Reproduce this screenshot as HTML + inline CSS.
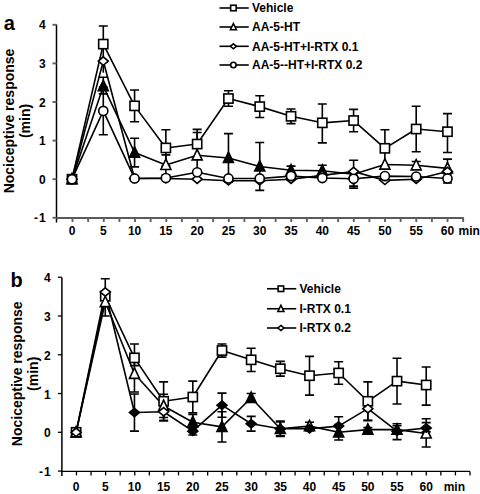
<!DOCTYPE html>
<html><head><meta charset="utf-8"><style>
html,body{margin:0;padding:0;background:#fff;width:480px;height:494px;overflow:hidden}
svg{display:block}
text{font-family:"Liberation Sans",sans-serif;font-weight:bold;fill:#000}
</style></head><body>
<svg width="480" height="494" viewBox="0 0 480 494">
<path d="M56.5 24.5V222.5" stroke="#000" stroke-width="1.5" fill="none"/>
<path d="M52.5 24.8H56.5" stroke="#606060" stroke-width="1.9" fill="none"/>
<text x="45.8" y="29.3" font-size="12" text-anchor="end" >4</text>
<path d="M52.5 63.4H56.5" stroke="#606060" stroke-width="1.9" fill="none"/>
<text x="45.8" y="67.9" font-size="12" text-anchor="end" >3</text>
<path d="M52.5 102H56.5" stroke="#606060" stroke-width="1.9" fill="none"/>
<text x="45.8" y="106.5" font-size="12" text-anchor="end" >2</text>
<path d="M52.5 140.6H56.5" stroke="#606060" stroke-width="1.9" fill="none"/>
<text x="45.8" y="145.1" font-size="12" text-anchor="end" >1</text>
<path d="M52.5 179.2H56.5" stroke="#606060" stroke-width="1.9" fill="none"/>
<text x="45.8" y="183.7" font-size="12" text-anchor="end" >0</text>
<path d="M52.5 217.8H56.5" stroke="#606060" stroke-width="1.9" fill="none"/>
<text x="45.8" y="222.3" font-size="12" text-anchor="end" ><tspan>-</tspan><tspan dx="1">1</tspan></text>
<path d="M56.5 218H463.8" stroke="#5a5a5a" stroke-width="2.0" fill="none"/>
<path d="M72.53 218V222" stroke="#606060" stroke-width="1.9" fill="none"/>
<path d="M88.15 218V222" stroke="#606060" stroke-width="1.9" fill="none"/>
<path d="M103.78 218V222" stroke="#606060" stroke-width="1.9" fill="none"/>
<path d="M119.4 218V222" stroke="#606060" stroke-width="1.9" fill="none"/>
<path d="M135.03 218V222" stroke="#606060" stroke-width="1.9" fill="none"/>
<path d="M150.65 218V222" stroke="#606060" stroke-width="1.9" fill="none"/>
<path d="M166.28 218V222" stroke="#606060" stroke-width="1.9" fill="none"/>
<path d="M181.9 218V222" stroke="#606060" stroke-width="1.9" fill="none"/>
<path d="M197.53 218V222" stroke="#606060" stroke-width="1.9" fill="none"/>
<path d="M213.15 218V222" stroke="#606060" stroke-width="1.9" fill="none"/>
<path d="M228.78 218V222" stroke="#606060" stroke-width="1.9" fill="none"/>
<path d="M244.4 218V222" stroke="#606060" stroke-width="1.9" fill="none"/>
<path d="M260.02 218V222" stroke="#606060" stroke-width="1.9" fill="none"/>
<path d="M275.65 218V222" stroke="#606060" stroke-width="1.9" fill="none"/>
<path d="M291.27 218V222" stroke="#606060" stroke-width="1.9" fill="none"/>
<path d="M306.9 218V222" stroke="#606060" stroke-width="1.9" fill="none"/>
<path d="M322.52 218V222" stroke="#606060" stroke-width="1.9" fill="none"/>
<path d="M338.15 218V222" stroke="#606060" stroke-width="1.9" fill="none"/>
<path d="M353.77 218V222" stroke="#606060" stroke-width="1.9" fill="none"/>
<path d="M369.4 218V222" stroke="#606060" stroke-width="1.9" fill="none"/>
<path d="M385.02 218V222" stroke="#606060" stroke-width="1.9" fill="none"/>
<path d="M400.65 218V222" stroke="#606060" stroke-width="1.9" fill="none"/>
<path d="M416.27 218V222" stroke="#606060" stroke-width="1.9" fill="none"/>
<path d="M431.9 218V222" stroke="#606060" stroke-width="1.9" fill="none"/>
<path d="M447.52 218V222" stroke="#606060" stroke-width="1.9" fill="none"/>
<path d="M463.15 218V222" stroke="#606060" stroke-width="1.9" fill="none"/>
<text x="72" y="235.3" font-size="12" text-anchor="middle" >0</text>
<text x="103.29" y="235.3" font-size="12" text-anchor="middle" >5</text>
<text x="134.58" y="235.3" font-size="12" text-anchor="middle" >10</text>
<text x="165.87" y="235.3" font-size="12" text-anchor="middle" >15</text>
<text x="197.16" y="235.3" font-size="12" text-anchor="middle" >20</text>
<text x="228.45" y="235.3" font-size="12" text-anchor="middle" >25</text>
<text x="259.74" y="235.3" font-size="12" text-anchor="middle" >30</text>
<text x="291.03" y="235.3" font-size="12" text-anchor="middle" >35</text>
<text x="322.32" y="235.3" font-size="12" text-anchor="middle" >40</text>
<text x="353.61" y="235.3" font-size="12" text-anchor="middle" >45</text>
<text x="384.9" y="235.3" font-size="12" text-anchor="middle" >50</text>
<text x="416.19" y="235.3" font-size="12" text-anchor="middle" >55</text>
<text x="447.48" y="235.3" font-size="12" text-anchor="middle" >60</text>
<text x="458.5" y="235.3" font-size="12" text-anchor="start" >min</text>
<text transform="translate(13.5 121) rotate(-90)" font-size="14" text-anchor="middle">Nociceptive response</text>
<text transform="translate(30 121) rotate(-90)" font-size="14" text-anchor="middle">(min)</text>
<text x="3.8" y="30.2" font-size="20" text-anchor="start" >a</text>
<path d="M219.5 8H248.75" stroke="#000" stroke-width="1.6"/>
<rect x="230.64" y="5.24" width="5.52" height="5.52" fill="#fff" stroke="#000" stroke-width="1.6"/>
<text x="252" y="12.3" font-size="12" text-anchor="start" >Vehicle</text>
<path d="M219.5 27H248.75" stroke="#000" stroke-width="1.6"/>
<path d="M233.4 23.52L236.4 29.76L230.4 29.76Z" fill="#fff" stroke="#000" stroke-width="1.6" stroke-linejoin="miter"/>
<text x="252" y="31.3" font-size="12" text-anchor="start" >AA-5-HT</text>
<path d="M219.5 46.3H248.75" stroke="#000" stroke-width="1.6"/>
<path d="M233.4 43.78L236.4 46.3L233.4 48.82L230.4 46.3Z" fill="#fff" stroke="#000" stroke-width="1.6"/>
<text x="252" y="50.6" font-size="12" text-anchor="start" >AA-5-HT+I-RTX 0.1</text>
<path d="M219.5 65H248.75" stroke="#000" stroke-width="1.6"/>
<circle cx="233.4" cy="65" r="2.73" fill="#fff" stroke="#000" stroke-width="1.6"/>
<text x="252" y="69.3" font-size="12" text-anchor="start" >AA-5--HT+I-RTX 0.2</text>
<path d="M103.29 44.1V25.96M98.79 25.96H107.79M103.29 44.1V62.24M98.79 62.24H107.79" stroke="#000" stroke-width="1.6" fill="none"/>
<path d="M134.58 105.86V90.03M130.08 90.03H139.08M134.58 105.86V121.69M130.08 121.69H139.08" stroke="#000" stroke-width="1.6" fill="none"/>
<path d="M165.87 147.93V129.79M161.37 129.79H170.37M165.87 147.93V166.08M161.37 166.08H170.37" stroke="#000" stroke-width="1.6" fill="none"/>
<path d="M197.16 144.07V129.41M192.66 129.41H201.66M197.16 144.07V158.74M192.66 158.74H201.66" stroke="#000" stroke-width="1.6" fill="none"/>
<path d="M228.45 98.53V90.81M223.95 90.81H232.95M228.45 98.53V106.25M223.95 106.25H232.95" stroke="#000" stroke-width="1.6" fill="none"/>
<path d="M259.74 106.63V95.82M255.24 95.82H264.24M259.74 106.63V117.44M255.24 117.44H264.24" stroke="#000" stroke-width="1.6" fill="none"/>
<path d="M291.03 116.28V108.95M286.53 108.95H295.53M291.03 116.28V123.62M286.53 123.62H295.53" stroke="#000" stroke-width="1.6" fill="none"/>
<path d="M322.32 122.84V103.93M317.82 103.93H326.82M322.32 122.84V142.92M317.82 142.92H326.82" stroke="#000" stroke-width="1.6" fill="none"/>
<path d="M353.61 120.53V109.33M349.11 109.33H358.11M353.61 120.53V131.72M349.11 131.72H358.11" stroke="#000" stroke-width="1.6" fill="none"/>
<path d="M384.9 148.32V129.79M380.4 129.79H389.4M384.9 148.32V166.85M380.4 166.85H389.4" stroke="#000" stroke-width="1.6" fill="none"/>
<path d="M416.19 129.02V106.25M411.69 106.25H420.69M416.19 129.02V151.79M411.69 151.79H420.69" stroke="#000" stroke-width="1.6" fill="none"/>
<path d="M447.48 131.72V113.58M442.98 113.58H451.98M447.48 131.72V152.57M442.98 152.57H451.98" stroke="#000" stroke-width="1.6" fill="none"/>
<path d="M103.29 86.17V77.3M98.79 77.3H107.79M103.29 86.17V93.89M98.79 93.89H107.79" stroke="#000" stroke-width="1.6" fill="none"/>
<path d="M134.58 152.57V138.28M130.08 138.28H139.08M134.58 152.57V166.85M130.08 166.85H139.08" stroke="#000" stroke-width="1.6" fill="none"/>
<path d="M165.87 164.92V154.88M161.37 154.88H170.37M165.87 164.92V174.95M161.37 174.95H170.37" stroke="#000" stroke-width="1.6" fill="none"/>
<path d="M197.16 155.27V132.49M192.66 132.49H201.66M197.16 155.27V178.04M192.66 178.04H201.66" stroke="#000" stroke-width="1.6" fill="none"/>
<path d="M228.45 157.97V133.65M223.95 133.65H232.95M228.45 157.97V182.29M223.95 182.29H232.95" stroke="#000" stroke-width="1.6" fill="none"/>
<path d="M259.74 166.46V142.53M255.24 142.53H264.24M259.74 166.46V190.39M255.24 190.39H264.24" stroke="#000" stroke-width="1.6" fill="none"/>
<path d="M291.03 170.32V166.08M286.53 166.08H295.53M291.03 170.32V174.57M286.53 174.57H295.53" stroke="#000" stroke-width="1.6" fill="none"/>
<path d="M322.32 170.71V165.3M317.82 165.3H326.82M322.32 170.71V176.11M317.82 176.11H326.82" stroke="#000" stroke-width="1.6" fill="none"/>
<path d="M353.61 174.18V160.29M349.11 160.29H358.11M353.61 174.18V188.08M349.11 188.08H358.11" stroke="#000" stroke-width="1.6" fill="none"/>
<path d="M416.19 165.3V161.44M411.69 161.44H420.69M416.19 165.3V169.16M411.69 169.16H420.69" stroke="#000" stroke-width="1.6" fill="none"/>
<path d="M447.48 168.39V159.13M442.98 159.13H451.98M447.48 168.39V177.66M442.98 177.66H451.98" stroke="#000" stroke-width="1.6" fill="none"/>
<path d="M103.29 61.08V72.66" stroke="#000" stroke-width="1.6" fill="none"/>
<path d="M103.29 110.88V86.95M98.79 86.95H107.79M103.29 110.88V134.81M98.79 134.81H107.79" stroke="#000" stroke-width="1.6" fill="none"/>
<path d="M353.61 178.81V171.48M349.11 171.48H358.11M353.61 178.81V186.15M349.11 186.15H358.11" stroke="#000" stroke-width="1.6" fill="none"/>
<path d="M447.48 178.43V173.8M442.98 173.8H451.98M447.48 178.43V183.06M442.98 183.06H451.98" stroke="#000" stroke-width="1.6" fill="none"/>
<path d="M72 179.2 L103.29 44.1 L134.58 105.86 L165.87 147.93 L197.16 144.07 L228.45 98.53 L259.74 106.63 L291.03 116.28 L322.32 122.84 L353.61 120.53 L384.9 148.32 L416.19 129.02 L447.48 131.72" fill="none" stroke="#000" stroke-width="1.6" stroke-linejoin="round"/>
<path d="M72 179.2 L103.29 86.17 L134.58 152.57 L165.87 164.92 L197.16 155.27 L228.45 157.97 L259.74 166.46 L291.03 170.32 L322.32 170.71 L353.61 174.18 L384.9 164.53 L416.19 165.3 L447.48 168.39" fill="none" stroke="#000" stroke-width="1.6" stroke-linejoin="round"/>
<path d="M72 179.2 L103.29 61.08 L134.58 178.43 L165.87 178.43 L197.16 179.2 L228.45 180.74 L259.74 180.74 L291.03 179.2 L322.32 175.34 L353.61 171.48 L384.9 180.36 L416.19 179.2 L447.48 171.48" fill="none" stroke="#000" stroke-width="1.6" stroke-linejoin="round"/>
<path d="M72 179.2 L103.29 110.88 L134.58 178.43 L165.87 178.04 L197.16 172.25 L228.45 178.43 L259.74 178.43 L291.03 176.11 L322.32 178.04 L353.61 178.81 L384.9 176.11 L416.19 176.5 L447.48 178.43" fill="none" stroke="#000" stroke-width="1.6" stroke-linejoin="round"/>
<rect x="67.4" y="174.6" width="9.2" height="9.2" fill="#fff" stroke="#000" stroke-width="1.6"/>
<rect x="98.69" y="39.5" width="9.2" height="9.2" fill="#fff" stroke="#000" stroke-width="1.6"/>
<rect x="129.98" y="101.26" width="9.2" height="9.2" fill="#fff" stroke="#000" stroke-width="1.6"/>
<rect x="161.27" y="143.33" width="9.2" height="9.2" fill="#fff" stroke="#000" stroke-width="1.6"/>
<rect x="192.56" y="139.47" width="9.2" height="9.2" fill="#fff" stroke="#000" stroke-width="1.6"/>
<rect x="223.85" y="93.93" width="9.2" height="9.2" fill="#fff" stroke="#000" stroke-width="1.6"/>
<rect x="255.14" y="102.03" width="9.2" height="9.2" fill="#fff" stroke="#000" stroke-width="1.6"/>
<rect x="286.43" y="111.68" width="9.2" height="9.2" fill="#fff" stroke="#000" stroke-width="1.6"/>
<rect x="317.72" y="118.24" width="9.2" height="9.2" fill="#fff" stroke="#000" stroke-width="1.6"/>
<rect x="349.01" y="115.93" width="9.2" height="9.2" fill="#fff" stroke="#000" stroke-width="1.6"/>
<rect x="380.3" y="143.72" width="9.2" height="9.2" fill="#fff" stroke="#000" stroke-width="1.6"/>
<rect x="411.59" y="124.42" width="9.2" height="9.2" fill="#fff" stroke="#000" stroke-width="1.6"/>
<rect x="442.88" y="127.12" width="9.2" height="9.2" fill="#fff" stroke="#000" stroke-width="1.6"/>
<path d="M72 173.4L77 183.8L67 183.8Z" fill="#fff" stroke="#000" stroke-width="1.6" stroke-linejoin="miter"/>
<path d="M103.29 80.37L108.29 90.77L98.29 90.77Z" fill="#000" stroke="#000" stroke-width="1.6" stroke-linejoin="miter"/>
<path d="M134.58 146.77L139.58 157.17L129.58 157.17Z" fill="#000" stroke="#000" stroke-width="1.6" stroke-linejoin="miter"/>
<path d="M165.87 159.12L170.87 169.52L160.87 169.52Z" fill="#fff" stroke="#000" stroke-width="1.6" stroke-linejoin="miter"/>
<path d="M197.16 149.47L202.16 159.87L192.16 159.87Z" fill="#fff" stroke="#000" stroke-width="1.6" stroke-linejoin="miter"/>
<path d="M228.45 152.17L233.45 162.57L223.45 162.57Z" fill="#000" stroke="#000" stroke-width="1.6" stroke-linejoin="miter"/>
<path d="M259.74 160.66L264.74 171.06L254.74 171.06Z" fill="#000" stroke="#000" stroke-width="1.6" stroke-linejoin="miter"/>
<path d="M291.03 164.52L296.03 174.92L286.03 174.92Z" fill="#000" stroke="#000" stroke-width="1.6" stroke-linejoin="miter"/>
<path d="M322.32 164.91L327.32 175.31L317.32 175.31Z" fill="#000" stroke="#000" stroke-width="1.6" stroke-linejoin="miter"/>
<path d="M353.61 168.38L358.61 178.78L348.61 178.78Z" fill="#fff" stroke="#000" stroke-width="1.6" stroke-linejoin="miter"/>
<path d="M384.9 158.73L389.9 169.13L379.9 169.13Z" fill="#fff" stroke="#000" stroke-width="1.6" stroke-linejoin="miter"/>
<path d="M416.19 159.5L421.19 169.9L411.19 169.9Z" fill="#fff" stroke="#000" stroke-width="1.6" stroke-linejoin="miter"/>
<path d="M447.48 162.59L452.48 172.99L442.48 172.99Z" fill="#fff" stroke="#000" stroke-width="1.6" stroke-linejoin="miter"/>
<path d="M72 175L77 179.2L72 183.4L67 179.2Z" fill="#fff" stroke="#000" stroke-width="1.6"/>
<path d="M103.29 56.88L108.29 61.08L103.29 65.28L98.29 61.08Z" fill="#fff" stroke="#000" stroke-width="1.6"/>
<path d="M134.58 174.23L139.58 178.43L134.58 182.63L129.58 178.43Z" fill="#fff" stroke="#000" stroke-width="1.6"/>
<path d="M165.87 174.23L170.87 178.43L165.87 182.63L160.87 178.43Z" fill="#fff" stroke="#000" stroke-width="1.6"/>
<path d="M197.16 175L202.16 179.2L197.16 183.4L192.16 179.2Z" fill="#fff" stroke="#000" stroke-width="1.6"/>
<path d="M228.45 176.54L233.45 180.74L228.45 184.94L223.45 180.74Z" fill="#fff" stroke="#000" stroke-width="1.6"/>
<path d="M259.74 176.54L264.74 180.74L259.74 184.94L254.74 180.74Z" fill="#fff" stroke="#000" stroke-width="1.6"/>
<path d="M291.03 175L296.03 179.2L291.03 183.4L286.03 179.2Z" fill="#fff" stroke="#000" stroke-width="1.6"/>
<path d="M322.32 171.14L327.32 175.34L322.32 179.54L317.32 175.34Z" fill="#fff" stroke="#000" stroke-width="1.6"/>
<path d="M353.61 167.28L358.61 171.48L353.61 175.68L348.61 171.48Z" fill="#fff" stroke="#000" stroke-width="1.6"/>
<path d="M384.9 176.16L389.9 180.36L384.9 184.56L379.9 180.36Z" fill="#fff" stroke="#000" stroke-width="1.6"/>
<path d="M416.19 175L421.19 179.2L416.19 183.4L411.19 179.2Z" fill="#fff" stroke="#000" stroke-width="1.6"/>
<path d="M447.48 167.28L452.48 171.48L447.48 175.68L442.48 171.48Z" fill="#fff" stroke="#000" stroke-width="1.6"/>
<circle cx="72" cy="179.2" r="4.55" fill="#fff" stroke="#000" stroke-width="1.6"/>
<circle cx="103.29" cy="110.88" r="4.55" fill="#fff" stroke="#000" stroke-width="1.6"/>
<circle cx="134.58" cy="178.43" r="4.55" fill="#fff" stroke="#000" stroke-width="1.6"/>
<circle cx="165.87" cy="178.04" r="4.55" fill="#fff" stroke="#000" stroke-width="1.6"/>
<circle cx="197.16" cy="172.25" r="4.55" fill="#fff" stroke="#000" stroke-width="1.6"/>
<circle cx="228.45" cy="178.43" r="4.55" fill="#fff" stroke="#000" stroke-width="1.6"/>
<circle cx="259.74" cy="178.43" r="4.55" fill="#fff" stroke="#000" stroke-width="1.6"/>
<circle cx="291.03" cy="176.11" r="4.55" fill="#fff" stroke="#000" stroke-width="1.6"/>
<circle cx="322.32" cy="178.04" r="4.55" fill="#fff" stroke="#000" stroke-width="1.6"/>
<circle cx="353.61" cy="178.81" r="4.55" fill="#fff" stroke="#000" stroke-width="1.6"/>
<circle cx="384.9" cy="176.11" r="4.55" fill="#fff" stroke="#000" stroke-width="1.6"/>
<circle cx="416.19" cy="176.5" r="4.55" fill="#fff" stroke="#000" stroke-width="1.6"/>
<circle cx="447.48" cy="178.43" r="4.55" fill="#fff" stroke="#000" stroke-width="1.6"/>
<path d="M61.9 277.5V475.9" stroke="#000" stroke-width="1.5" fill="none"/>
<path d="M57.9 277.26H61.9" stroke="#000" stroke-width="1.3" fill="none"/>
<text x="50.6" y="282.26" font-size="12" text-anchor="end" >4</text>
<path d="M57.9 316.02H61.9" stroke="#000" stroke-width="1.3" fill="none"/>
<text x="50.6" y="321.02" font-size="12" text-anchor="end" >3</text>
<path d="M57.9 354.78H61.9" stroke="#000" stroke-width="1.3" fill="none"/>
<text x="50.6" y="359.78" font-size="12" text-anchor="end" >2</text>
<path d="M57.9 393.54H61.9" stroke="#000" stroke-width="1.3" fill="none"/>
<text x="50.6" y="398.54" font-size="12" text-anchor="end" >1</text>
<path d="M57.9 432.3H61.9" stroke="#000" stroke-width="1.3" fill="none"/>
<text x="50.6" y="437.3" font-size="12" text-anchor="end" >0</text>
<path d="M57.9 471.06H61.9" stroke="#000" stroke-width="1.3" fill="none"/>
<text x="50.6" y="476.06" font-size="12" text-anchor="end" ><tspan>-</tspan><tspan dx="1">1</tspan></text>
<path d="M61.9 471.4H470" stroke="#000" stroke-width="1.4" fill="none"/>
<path d="M76.47 471.4V475.4" stroke="#000" stroke-width="1.3" fill="none"/>
<path d="M91.05 471.4V475.4" stroke="#000" stroke-width="1.3" fill="none"/>
<path d="M105.62 471.4V475.4" stroke="#000" stroke-width="1.3" fill="none"/>
<path d="M120.2 471.4V475.4" stroke="#000" stroke-width="1.3" fill="none"/>
<path d="M134.78 471.4V475.4" stroke="#000" stroke-width="1.3" fill="none"/>
<path d="M149.35 471.4V475.4" stroke="#000" stroke-width="1.3" fill="none"/>
<path d="M163.93 471.4V475.4" stroke="#000" stroke-width="1.3" fill="none"/>
<path d="M178.5 471.4V475.4" stroke="#000" stroke-width="1.3" fill="none"/>
<path d="M193.08 471.4V475.4" stroke="#000" stroke-width="1.3" fill="none"/>
<path d="M207.65 471.4V475.4" stroke="#000" stroke-width="1.3" fill="none"/>
<path d="M222.23 471.4V475.4" stroke="#000" stroke-width="1.3" fill="none"/>
<path d="M236.8 471.4V475.4" stroke="#000" stroke-width="1.3" fill="none"/>
<path d="M251.38 471.4V475.4" stroke="#000" stroke-width="1.3" fill="none"/>
<path d="M265.95 471.4V475.4" stroke="#000" stroke-width="1.3" fill="none"/>
<path d="M280.53 471.4V475.4" stroke="#000" stroke-width="1.3" fill="none"/>
<path d="M295.1 471.4V475.4" stroke="#000" stroke-width="1.3" fill="none"/>
<path d="M309.68 471.4V475.4" stroke="#000" stroke-width="1.3" fill="none"/>
<path d="M324.25 471.4V475.4" stroke="#000" stroke-width="1.3" fill="none"/>
<path d="M338.82 471.4V475.4" stroke="#000" stroke-width="1.3" fill="none"/>
<path d="M353.4 471.4V475.4" stroke="#000" stroke-width="1.3" fill="none"/>
<path d="M367.98 471.4V475.4" stroke="#000" stroke-width="1.3" fill="none"/>
<path d="M382.55 471.4V475.4" stroke="#000" stroke-width="1.3" fill="none"/>
<path d="M397.12 471.4V475.4" stroke="#000" stroke-width="1.3" fill="none"/>
<path d="M411.7 471.4V475.4" stroke="#000" stroke-width="1.3" fill="none"/>
<path d="M426.27 471.4V475.4" stroke="#000" stroke-width="1.3" fill="none"/>
<path d="M440.85 471.4V475.4" stroke="#000" stroke-width="1.3" fill="none"/>
<path d="M455.43 471.4V475.4" stroke="#000" stroke-width="1.3" fill="none"/>
<path d="M470 471.4V475.4" stroke="#000" stroke-width="1.3" fill="none"/>
<text x="76.1" y="491.3" font-size="12" text-anchor="middle" >0</text>
<text x="105.27" y="491.3" font-size="12" text-anchor="middle" >5</text>
<text x="134.45" y="491.3" font-size="12" text-anchor="middle" >10</text>
<text x="163.62" y="491.3" font-size="12" text-anchor="middle" >15</text>
<text x="192.8" y="491.3" font-size="12" text-anchor="middle" >20</text>
<text x="221.97" y="491.3" font-size="12" text-anchor="middle" >25</text>
<text x="251.15" y="491.3" font-size="12" text-anchor="middle" >30</text>
<text x="280.32" y="491.3" font-size="12" text-anchor="middle" >35</text>
<text x="309.5" y="491.3" font-size="12" text-anchor="middle" >40</text>
<text x="338.67" y="491.3" font-size="12" text-anchor="middle" >45</text>
<text x="367.85" y="491.3" font-size="12" text-anchor="middle" >50</text>
<text x="397.02" y="491.3" font-size="12" text-anchor="middle" >55</text>
<text x="426.2" y="491.3" font-size="12" text-anchor="middle" >60</text>
<text x="443.7" y="491.3" font-size="12" text-anchor="start" >min</text>
<text transform="translate(21.9 373.8) rotate(-90)" font-size="14" text-anchor="middle">Nociceptive response</text>
<text transform="translate(38.4 373.8) rotate(-90)" font-size="14" text-anchor="middle">(min)</text>
<text x="10.6" y="286.7" font-size="20" text-anchor="start" >b</text>
<path d="M267 288.75H296.25" stroke="#000" stroke-width="1.6"/>
<rect x="278.14" y="285.99" width="5.52" height="5.52" fill="#fff" stroke="#000" stroke-width="1.6"/>
<text x="299.5" y="293.05" font-size="12" text-anchor="start" >Vehicle</text>
<path d="M267 308.75H296.25" stroke="#000" stroke-width="1.6"/>
<path d="M280.9 305.27L283.9 311.51L277.9 311.51Z" fill="#fff" stroke="#000" stroke-width="1.6" stroke-linejoin="miter"/>
<text x="299.5" y="313.05" font-size="12" text-anchor="start" >I-RTX 0.1</text>
<path d="M267 328H296.25" stroke="#000" stroke-width="1.6"/>
<path d="M280.9 325.48L283.9 328L280.9 330.52L277.9 328Z" fill="#fff" stroke="#000" stroke-width="1.6"/>
<text x="299.5" y="332.3" font-size="12" text-anchor="start" >I-RTX 0.2</text>
<path d="M105.27 296.25V316.02M100.77 316.02H109.77" stroke="#000" stroke-width="1.6" fill="none"/>
<path d="M134.45 357.88V343.93M129.95 343.93H138.95M134.45 357.88V365.63M129.95 365.63H138.95" stroke="#000" stroke-width="1.6" fill="none"/>
<path d="M163.62 401.29V381.91M159.12 381.91H168.12M163.62 401.29V420.67M159.12 420.67H168.12" stroke="#000" stroke-width="1.6" fill="none"/>
<path d="M192.8 397.03V381.14M188.3 381.14H197.3M192.8 397.03V412.92M188.3 412.92H197.3" stroke="#000" stroke-width="1.6" fill="none"/>
<path d="M221.97 350.52V343.93M217.47 343.93H226.47M221.97 350.52V357.11M217.47 357.11H226.47" stroke="#000" stroke-width="1.6" fill="none"/>
<path d="M251.15 359.82V348.19M246.65 348.19H255.65M251.15 359.82V371.45M246.65 371.45H255.65" stroke="#000" stroke-width="1.6" fill="none"/>
<path d="M280.32 368.73V361.37M275.82 361.37H284.82M280.32 368.73V376.1M275.82 376.1H284.82" stroke="#000" stroke-width="1.6" fill="none"/>
<path d="M309.5 375.71V356.33M305 356.33H314M309.5 375.71V395.09M305 395.09H314" stroke="#000" stroke-width="1.6" fill="none"/>
<path d="M338.67 373V361.76M334.17 361.76H343.17M338.67 373V384.24M334.17 384.24H343.17" stroke="#000" stroke-width="1.6" fill="none"/>
<path d="M367.85 401.29V381.91M363.35 381.91H372.35M367.85 401.29V420.67M363.35 420.67H372.35" stroke="#000" stroke-width="1.6" fill="none"/>
<path d="M397.02 381.14V358.27M392.52 358.27H401.52M397.02 381.14V404.01M392.52 404.01H401.52" stroke="#000" stroke-width="1.6" fill="none"/>
<path d="M426.2 385.01V366.99M421.7 366.99H430.7M426.2 385.01V405.17M421.7 405.17H430.7" stroke="#000" stroke-width="1.6" fill="none"/>
<path d="M134.45 373.77V355.56M129.95 355.56H138.95M134.45 373.77V391.99M129.95 391.99H138.95" stroke="#000" stroke-width="1.6" fill="none"/>
<path d="M163.62 405.94V394.32M159.12 394.32H168.12M163.62 405.94V417.57M159.12 417.57H168.12" stroke="#000" stroke-width="1.6" fill="none"/>
<path d="M192.8 422.22V414.47M188.3 414.47H197.3M192.8 422.22V429.97M188.3 429.97H197.3" stroke="#000" stroke-width="1.6" fill="none"/>
<path d="M221.97 426.87V411.76M217.47 411.76H226.47M221.97 426.87V441.99M217.47 441.99H226.47" stroke="#000" stroke-width="1.6" fill="none"/>
<path d="M251.15 397.8V393.54M246.65 393.54H255.65M251.15 397.8V402.07M246.65 402.07H255.65" stroke="#000" stroke-width="1.6" fill="none"/>
<path d="M280.32 428.81V421.06M275.82 421.06H284.82M280.32 428.81V436.56M275.82 436.56H284.82" stroke="#000" stroke-width="1.6" fill="none"/>
<path d="M309.5 426.1V422.22M305 422.22H314M309.5 426.1V429.97M305 429.97H314" stroke="#000" stroke-width="1.6" fill="none"/>
<path d="M338.67 432.3V424.55M334.17 424.55H343.17M338.67 432.3V440.05M334.17 440.05H343.17" stroke="#000" stroke-width="1.6" fill="none"/>
<path d="M367.85 429.59V427.65M363.35 427.65H372.35M367.85 429.59V431.52M363.35 431.52H372.35" stroke="#000" stroke-width="1.6" fill="none"/>
<path d="M397.02 429.59V425.71M392.52 425.71H401.52M397.02 429.59V433.46M392.52 433.46H401.52" stroke="#000" stroke-width="1.6" fill="none"/>
<path d="M426.2 433.46V422.61M421.7 422.61H430.7M426.2 433.46V447.03M421.7 447.03H430.7" stroke="#000" stroke-width="1.6" fill="none"/>
<path d="M105.27 291.99V278.81M100.77 278.81H109.77" stroke="#000" stroke-width="1.6" fill="none"/>
<path d="M134.45 412.53V393.93M129.95 393.93H138.95M134.45 412.53V431.14M129.95 431.14H138.95" stroke="#000" stroke-width="1.6" fill="none"/>
<path d="M163.62 411.76V402.84M159.12 402.84H168.12M163.62 411.76V420.67M159.12 420.67H168.12" stroke="#000" stroke-width="1.6" fill="none"/>
<path d="M192.8 431.14V427.26M188.3 427.26H197.3M192.8 431.14V435.01M188.3 435.01H197.3" stroke="#000" stroke-width="1.6" fill="none"/>
<path d="M221.97 405.17V393.15M217.47 393.15H226.47M221.97 405.17V417.18M217.47 417.18H226.47" stroke="#000" stroke-width="1.6" fill="none"/>
<path d="M251.15 423.77V416.41M246.65 416.41H255.65M251.15 423.77V431.14M246.65 431.14H255.65" stroke="#000" stroke-width="1.6" fill="none"/>
<path d="M280.32 428.81V421.83M275.82 421.83H284.82M280.32 428.81V435.79M275.82 435.79H284.82" stroke="#000" stroke-width="1.6" fill="none"/>
<path d="M309.5 428.81V426.87M305 426.87H314M309.5 428.81V430.75M305 430.75H314" stroke="#000" stroke-width="1.6" fill="none"/>
<path d="M338.67 426.1V416.8M334.17 416.8H343.17M338.67 426.1V435.4M334.17 435.4H343.17" stroke="#000" stroke-width="1.6" fill="none"/>
<path d="M367.85 408.66V397.03M363.35 397.03H372.35M367.85 408.66V420.28M363.35 420.28H372.35" stroke="#000" stroke-width="1.6" fill="none"/>
<path d="M397.02 431.14V423.77M392.52 423.77H401.52M397.02 431.14V439.66M392.52 439.66H401.52" stroke="#000" stroke-width="1.6" fill="none"/>
<path d="M426.2 428.04V418.73M421.7 418.73H430.7M426.2 428.04V431.91M421.7 431.91H430.7" stroke="#000" stroke-width="1.6" fill="none"/>
<path d="M76.1 432.3 L105.27 296.25 L134.45 357.88 L163.62 401.29 L192.8 397.03 L221.97 350.52 L251.15 359.82 L280.32 368.73 L309.5 375.71 L338.67 373 L367.85 401.29 L397.02 381.14 L426.2 385.01" fill="none" stroke="#000" stroke-width="1.6" stroke-linejoin="round"/>
<path d="M76.1 432.3 L105.27 302.07 L134.45 373.77 L163.62 405.94 L192.8 422.22 L221.97 426.87 L251.15 397.8 L280.32 428.81 L309.5 426.1 L338.67 432.3 L367.85 429.59 L397.02 429.59 L426.2 433.46" fill="none" stroke="#000" stroke-width="1.6" stroke-linejoin="round"/>
<path d="M76.1 432.3 L105.27 291.99 L134.45 412.53 L163.62 411.76 L192.8 431.14 L221.97 405.17 L251.15 423.77 L280.32 428.81 L309.5 428.81 L338.67 426.1 L367.85 408.66 L397.02 431.14 L426.2 428.04" fill="none" stroke="#000" stroke-width="1.6" stroke-linejoin="round"/>
<rect x="71.5" y="427.7" width="9.2" height="9.2" fill="#fff" stroke="#000" stroke-width="1.6"/>
<rect x="100.67" y="291.65" width="9.2" height="9.2" fill="#fff" stroke="#000" stroke-width="1.6"/>
<rect x="129.85" y="353.28" width="9.2" height="9.2" fill="#fff" stroke="#000" stroke-width="1.6"/>
<rect x="159.03" y="396.69" width="9.2" height="9.2" fill="#fff" stroke="#000" stroke-width="1.6"/>
<rect x="188.2" y="392.43" width="9.2" height="9.2" fill="#fff" stroke="#000" stroke-width="1.6"/>
<rect x="217.38" y="345.92" width="9.2" height="9.2" fill="#fff" stroke="#000" stroke-width="1.6"/>
<rect x="246.55" y="355.22" width="9.2" height="9.2" fill="#fff" stroke="#000" stroke-width="1.6"/>
<rect x="275.72" y="364.13" width="9.2" height="9.2" fill="#fff" stroke="#000" stroke-width="1.6"/>
<rect x="304.9" y="371.11" width="9.2" height="9.2" fill="#fff" stroke="#000" stroke-width="1.6"/>
<rect x="334.07" y="368.4" width="9.2" height="9.2" fill="#fff" stroke="#000" stroke-width="1.6"/>
<rect x="363.25" y="396.69" width="9.2" height="9.2" fill="#fff" stroke="#000" stroke-width="1.6"/>
<rect x="392.42" y="376.54" width="9.2" height="9.2" fill="#fff" stroke="#000" stroke-width="1.6"/>
<rect x="421.6" y="380.41" width="9.2" height="9.2" fill="#fff" stroke="#000" stroke-width="1.6"/>
<path d="M76.1 426.5L81.1 436.9L71.1 436.9Z" fill="#fff" stroke="#000" stroke-width="1.6" stroke-linejoin="miter"/>
<path d="M105.27 296.27L110.27 306.67L100.27 306.67Z" fill="#fff" stroke="#000" stroke-width="1.6" stroke-linejoin="miter"/>
<path d="M134.45 367.97L139.45 378.37L129.45 378.37Z" fill="#fff" stroke="#000" stroke-width="1.6" stroke-linejoin="miter"/>
<path d="M163.62 400.14L168.62 410.54L158.62 410.54Z" fill="#fff" stroke="#000" stroke-width="1.6" stroke-linejoin="miter"/>
<path d="M192.8 416.42L197.8 426.82L187.8 426.82Z" fill="#000" stroke="#000" stroke-width="1.6" stroke-linejoin="miter"/>
<path d="M221.97 421.07L226.97 431.47L216.97 431.47Z" fill="#000" stroke="#000" stroke-width="1.6" stroke-linejoin="miter"/>
<path d="M251.15 392L256.15 402.4L246.15 402.4Z" fill="#000" stroke="#000" stroke-width="1.6" stroke-linejoin="miter"/>
<path d="M280.32 423.01L285.32 433.41L275.32 433.41Z" fill="#000" stroke="#000" stroke-width="1.6" stroke-linejoin="miter"/>
<path d="M309.5 420.3L314.5 430.7L304.5 430.7Z" fill="#fff" stroke="#000" stroke-width="1.6" stroke-linejoin="miter"/>
<path d="M338.67 426.5L343.67 436.9L333.67 436.9Z" fill="#000" stroke="#000" stroke-width="1.6" stroke-linejoin="miter"/>
<path d="M367.85 423.79L372.85 434.19L362.85 434.19Z" fill="#000" stroke="#000" stroke-width="1.6" stroke-linejoin="miter"/>
<path d="M397.02 423.79L402.02 434.19L392.02 434.19Z" fill="#000" stroke="#000" stroke-width="1.6" stroke-linejoin="miter"/>
<path d="M426.2 427.66L431.2 438.06L421.2 438.06Z" fill="#fff" stroke="#000" stroke-width="1.6" stroke-linejoin="miter"/>
<path d="M76.1 428.1L81.1 432.3L76.1 436.5L71.1 432.3Z" fill="#fff" stroke="#000" stroke-width="1.6"/>
<path d="M105.27 287.79L110.27 291.99L105.27 296.19L100.27 291.99Z" fill="#fff" stroke="#000" stroke-width="1.6"/>
<path d="M134.45 408.33L139.45 412.53L134.45 416.73L129.45 412.53Z" fill="#000" stroke="#000" stroke-width="1.6"/>
<path d="M163.62 407.56L168.62 411.76L163.62 415.96L158.62 411.76Z" fill="#fff" stroke="#000" stroke-width="1.6"/>
<path d="M192.8 426.94L197.8 431.14L192.8 435.34L187.8 431.14Z" fill="#000" stroke="#000" stroke-width="1.6"/>
<path d="M221.97 400.97L226.97 405.17L221.97 409.37L216.97 405.17Z" fill="#000" stroke="#000" stroke-width="1.6"/>
<path d="M251.15 419.57L256.15 423.77L251.15 427.97L246.15 423.77Z" fill="#000" stroke="#000" stroke-width="1.6"/>
<path d="M280.32 424.61L285.32 428.81L280.32 433.01L275.32 428.81Z" fill="#000" stroke="#000" stroke-width="1.6"/>
<path d="M309.5 424.61L314.5 428.81L309.5 433.01L304.5 428.81Z" fill="#000" stroke="#000" stroke-width="1.6"/>
<path d="M338.67 421.9L343.67 426.1L338.67 430.3L333.67 426.1Z" fill="#000" stroke="#000" stroke-width="1.6"/>
<path d="M367.85 404.46L372.85 408.66L367.85 412.86L362.85 408.66Z" fill="#fff" stroke="#000" stroke-width="1.6"/>
<path d="M397.02 426.94L402.02 431.14L397.02 435.34L392.02 431.14Z" fill="#000" stroke="#000" stroke-width="1.6"/>
<path d="M426.2 423.84L431.2 428.04L426.2 432.24L421.2 428.04Z" fill="#000" stroke="#000" stroke-width="1.6"/>
</svg>
</body></html>
